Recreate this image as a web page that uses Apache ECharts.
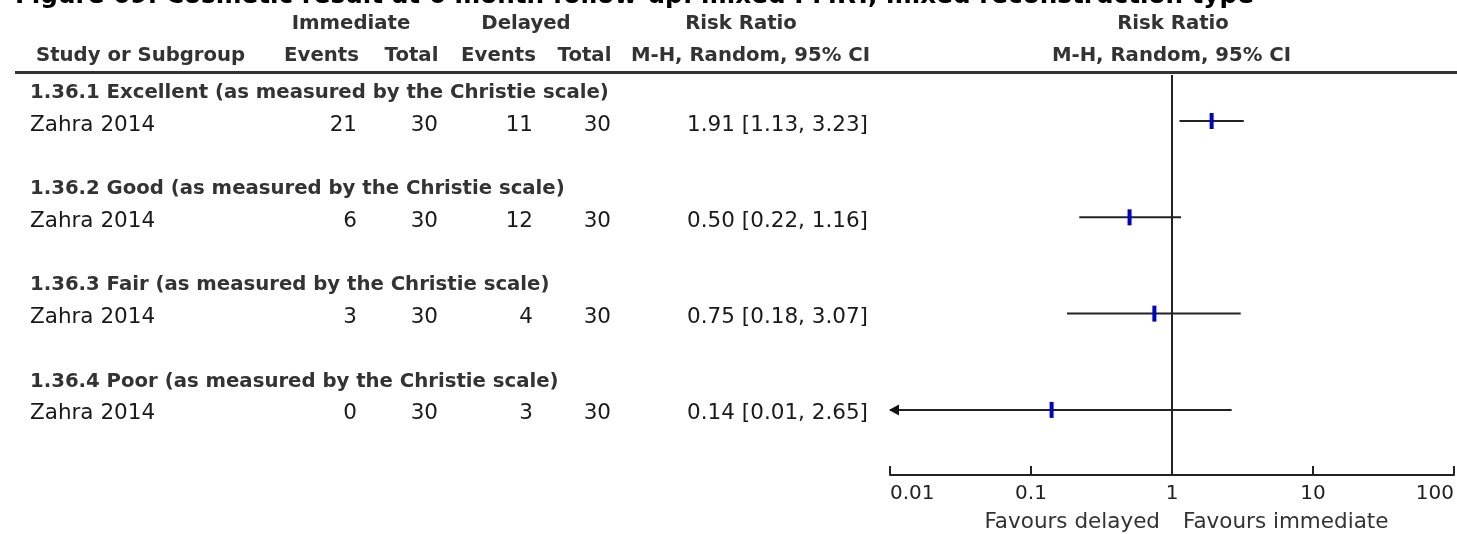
<!DOCTYPE html>
<html>
<head>
<meta charset="utf-8">
<script src="https://cdn.jsdelivr.net/npm/echarts@6/dist/echarts.min.js"></script>
<style>
html, body { margin: 0; padding: 0; background: #fff; }
#forest { width: 1457px; height: 534px; }
</style>
</head>
<body>
<div id="forest"></div>
<script>
var subgroups = [
    '1.36.1 Excellent (as measured by the Christie scale)',
    '1.36.2 Good (as measured by the Christie scale)',
    '1.36.3 Fair (as measured by the Christie scale)',
    '1.36.4 Poor (as measured by the Christie scale)'
];
var studies = ['Zahra 2014', 'Zahra 2014', 'Zahra 2014', 'Zahra 2014'];
var immEvents = [21, 6, 3, 0];
var immTotal = [30, 30, 30, 30];
var delEvents = [11, 12, 4, 3];
var delTotal = [30, 30, 30, 30];
var rr = [1.91, 0.50, 0.75, 0.14];
var ciLow = [1.13, 0.22, 0.18, 0.01];
var ciHigh = [3.23, 1.16, 3.07, 2.65];
var tickValues = [0.01, 0.1, 1, 10, 100];
var tickLabels = ['0.01', '0.1', '1', '10', '100'];

var dom = document.getElementById('forest');
var chart = echarts.init(dom);

var FONT = '"DejaVu Sans", "Liberation Sans", Arial, sans-serif';
var boldFont = 'bold 19.7px ' + FONT;
var normFont = '21.5px ' + FONT;

// table columns (x in pixels inside the table grid)
var col = { name: 30, immE: 357, immT: 438, delE: 533, delT: 611, rr: 868 };
var yMin = -0.478, yMax = 3.676;   // one unit = one subgroup block
var axisMin = 0.01, axisMax = 100;

function fmt(v) { return v.toFixed(2); }

// build table cells from the data arrays
var cells = [];
subgroups.forEach(function (g, k) {
    cells.push({ x: col.name, y: k - 0.335, text: g, align: 'left', font: boldFont, color: '#333' });
    cells.push({ x: col.name, y: k, text: studies[k], align: 'left', font: normFont, color: '#1a1a1a' });
    cells.push({ x: col.immE, y: k, text: String(immEvents[k]), align: 'right', font: normFont, color: '#1a1a1a' });
    cells.push({ x: col.immT, y: k, text: String(immTotal[k]), align: 'right', font: normFont, color: '#1a1a1a' });
    cells.push({ x: col.delE, y: k, text: String(delEvents[k]), align: 'right', font: normFont, color: '#1a1a1a' });
    cells.push({ x: col.delT, y: k, text: String(delTotal[k]), align: 'right', font: normFont, color: '#1a1a1a' });
    cells.push({ x: col.rr, y: k, text: fmt(rr[k]) + ' [' + fmt(ciLow[k]) + ', ' + fmt(ciHigh[k]) + ']',
        align: 'right', font: normFont, color: '#1a1a1a' });
});

function renderCell(params, api) {
    var c = cells[params.dataIndex];
    var p = api.coord([c.x, c.y]);
    return {
        type: 'text',
        x: p[0],
        y: p[1] + 4,
        style: { text: c.text, align: c.align, verticalAlign: 'middle', fill: c.color, font: c.font }
    };
}

function renderStudy(params, api) {
    var k = params.dataIndex;
    var y = api.coord([1, k])[1];
    var xl = api.coord([Math.max(ciLow[k], axisMin), k])[0];
    var xh = api.coord([Math.min(ciHigh[k], axisMax), k])[0];
    var xm = api.coord([rr[k], k])[0];
    var kids = [{
        type: 'line',
        shape: { x1: xl, y1: y, x2: xh, y2: y },
        style: { stroke: '#222', lineWidth: 2 }
    }];
    if (ciLow[k] <= axisMin) {
        kids.push({
            type: 'polygon',
            shape: { points: [[xl - 1, y], [xl + 9, y - 5.5], [xl + 9, y + 5.5]] },
            style: { fill: '#111' }
        });
    }
    kids.push({
        type: 'rect',
        shape: { x: xm - 2, y: y - 8, width: 4, height: 16 },
        style: { fill: '#0000cc' }
    });
    return { type: 'group', children: kids };
}

function headText(x, y, text, align, font, color) {
    return {
        type: 'text', x: x, y: y, silent: true,
        style: { text: text, align: align, verticalAlign: 'middle', font: font, fill: color || '#333' }
    };
}

var option = {
    animation: false,
    backgroundColor: '#fff',
    grid: [
        { left: 0, top: 75, width: 880, height: 400 },
        { left: 890, right: 3, top: 75, height: 400 }
    ],
    xAxis: [
        { gridIndex: 0, type: 'value', min: 0, max: 880, show: false },
        {
            gridIndex: 1, type: 'log', logBase: 10, min: axisMin, max: axisMax,
            axisLine: { show: true, onZero: false, lineStyle: { color: '#222', width: 2 } },
            axisTick: { show: true, inside: true, length: 9, lineStyle: { color: '#222', width: 2 } },
            splitLine: { show: false },
            axisLabel: {
                margin: 9, color: '#222', fontSize: 20, fontFamily: FONT,
                alignMinLabel: 'left', alignMaxLabel: 'right',
                formatter: function (v) {
                    for (var i = 0; i < tickValues.length; i++) {
                        if (Math.abs(tickValues[i] - v) / tickValues[i] < 1e-6) return tickLabels[i];
                    }
                    return '';
                }
            }
        }
    ],
    yAxis: [
        { gridIndex: 0, type: 'value', min: yMin, max: yMax, inverse: true, show: false },
        { gridIndex: 1, type: 'value', min: yMin, max: yMax, inverse: true, show: false }
    ],
    graphic: [
        headText(15, -3, 'Figure 69: Cosmetic result at 6 month follow-up: mixed PMRT, mixed reconstruction type',
            'left', 'bold 24.7px ' + FONT, '#000'),
        headText(351, 24, 'Immediate', 'center', boldFont),
        headText(526, 24, 'Delayed', 'center', boldFont),
        headText(741, 24, 'Risk Ratio', 'center', boldFont),
        headText(1173, 24, 'Risk Ratio', 'center', boldFont),
        headText(36, 56, 'Study or Subgroup', 'left', boldFont),
        headText(321.5, 56, 'Events', 'center', boldFont),
        headText(411.5, 56, 'Total', 'center', boldFont),
        headText(498.5, 56, 'Events', 'center', boldFont),
        headText(584.5, 56, 'Total', 'center', boldFont),
        headText(750.5, 56, 'M-H, Random, 95% CI', 'center', boldFont),
        headText(1171.5, 56, 'M-H, Random, 95% CI', 'center', boldFont),
        {
            type: 'line', silent: true,
            shape: { x1: 15, y1: 72.5, x2: 1457, y2: 72.5 },
            style: { stroke: '#333', lineWidth: 3 }
        },
        headText(1160, 522, 'Favours delayed', 'right', normFont, '#333'),
        headText(1183, 522, 'Favours immediate', 'left', normFont, '#333')
    ],
    series: [
        {
            type: 'custom',
            xAxisIndex: 0, yAxisIndex: 0,
            renderItem: renderCell,
            data: cells.map(function (c) { return [c.x, c.y]; }),
            silent: true
        },
        {
            type: 'custom',
            xAxisIndex: 1, yAxisIndex: 1,
            renderItem: renderStudy,
            data: rr.map(function (v, k) { return [v, k]; }),
            silent: true,
            markLine: {
                silent: true, symbol: 'none',
                label: { show: false },
                lineStyle: { color: '#222', width: 2, type: 'solid' },
                data: [{ xAxis: 1 }]
            }
        }
    ]
};

if (option && typeof option === 'object') {
    chart.setOption(option, true);
}
</script>
</body>
</html>
